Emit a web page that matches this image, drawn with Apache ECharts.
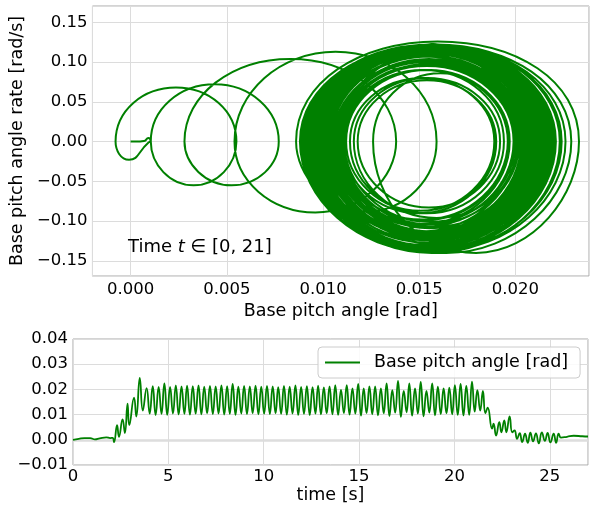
<!DOCTYPE html>
<html>
<head>
<meta charset="utf-8">
<script src="https://cdn.jsdelivr.net/npm/echarts@6/dist/echarts.min.js"></script>
<style>
  html, body { margin: 0; padding: 0; background: #ffffff; }
  #chart { width: 592px; height: 509px; }
</style>
</head>
<body>
<div id="chart"></div>
<script>
// ---------------- DATA ----------------
// Phase portrait, t in [0, 21]
// start of the trajectory (small curl near the origin), [angle, rate]
const phaseStartAngle = [0.0000, 0.0004, 0.0007, 0.00092, 0.00104, 0.00092, -0.00008];
const phaseStartRate  = [0.0000, 0.0002, 0.0007, 0.0045, 0.0010, -0.0015, -0.0229];
// successive turning points of the pitch angle (rate = 0 there)
const phaseAngleExt = [
  -0.00078, 0.0055, 0.00105, 0.0077, 0.0028, 0.0138, 0.0054, 0.0159, 0.0086, 0.0233, 0.0126,
  0.0196, 0.0108, 0.0219, 0.0098, 0.0212, 0.0101, 0.0208, 0.0104, 0.0205, 0.0099,
  0.0214, 0.0096, 0.0210, 0.0102, 0.0207, 0.0106, 0.0203, 0.0100, 0.0211, 0.0095,
  0.0216, 0.0097, 0.0209, 0.0103, 0.0204, 0.0107, 0.0201, 0.0104, 0.0206, 0.0099,
  0.0212, 0.0094, 0.0218, 0.0093, 0.0213, 0.0100, 0.0207, 0.0105, 0.0202, 0.0109,
  0.0199, 0.0106, 0.0204, 0.0101, 0.0210, 0.0097, 0.0215, 0.0092, 0.0221, 0.0089,
  0.0226, 0.0095, 0.0214, 0.0103, 0.0206, 0.0110, 0.0194, 0.0114, 0.0189, 0.0112,
  0.0197, 0.0104, 0.0208, 0.0098, 0.0213, 0.0094, 0.0219, 0.0091, 0.0224, 0.0096,
  0.0211, 0.0102, 0.0205, 0.0108, 0.0200, 0.0111, 0.0196, 0.0107, 0.0203, 0.0100,
  0.0212, 0.0093, 0.0220, 0.0088, 0.0229, 0.0099, 0.0209, 0.0105, 0.0202, 0.0116,
  0.0192, 0.0118, 0.0190, 0.0110, 0.0201, 0.0101, 0.0215, 0.0096, 0.0217, 0.0092,
  0.0223, 0.0090, 0.0216
];
// peak pitch rate between two successive turning points
const phaseRateExt = [
  0.068, -0.055, 0.072, -0.055, 0.104, -0.089, 0.113, -0.088, 0.126, -0.140,
  0.086, -0.099, 0.118, -0.135, 0.120, -0.124, 0.113, -0.116, 0.107, -0.118,
  0.121, -0.132, 0.120, -0.121, 0.111, -0.113, 0.103, -0.115, 0.116, -0.130,
  0.121, -0.133, 0.118, -0.119, 0.107, -0.109, 0.100, -0.107, 0.108, -0.120,
  0.119, -0.132, 0.122, -0.136, 0.121, -0.128, 0.113, -0.115, 0.102, -0.104,
  0.095, -0.104, 0.104, -0.116, 0.114, -0.127, 0.121, -0.135, 0.122, -0.138,
  0.122, -0.137, 0.119, -0.124, 0.108, -0.107, 0.090, -0.090, 0.080, -0.087,
  0.090, -0.104, 0.110, -0.124, 0.120, -0.133, 0.122, -0.137, 0.122, -0.136,
  0.117, -0.122, 0.107, -0.108, 0.097, -0.101, 0.090, -0.098, 0.101, -0.115,
  0.118, -0.133, 0.122, -0.138, 0.122, -0.140, 0.116, -0.116, 0.102, -0.096,
  0.080, -0.083, 0.077, -0.090, 0.098, -0.113, 0.119, -0.131, 0.121, -0.137,
  0.122, -0.140, 0.121
];

// Time history of the base pitch angle
const timeSec = [
  0, 0.3, 0.6, 0.9, 1.15, 1.4, 1.75, 1.95, 2.08, 2.15,
  2.31, 2.41, 2.60, 2.72, 2.86, 2.95, 3.20, 3.32, 3.50, 3.66,
  3.86, 4.02, 4.18, 4.33, 4.49, 4.64,
  4.79, 4.94, 5.09, 5.24, 5.39, 5.54, 5.69, 5.84, 5.98, 6.13,
  6.28, 6.43, 6.58, 6.73, 6.88, 7.03, 7.18, 7.33, 7.48, 7.63,
  7.78, 7.93, 8.08, 8.22, 8.37, 8.52, 8.67, 8.82, 8.97, 9.12,
  9.27, 9.42, 9.57, 9.72, 9.87, 10.02, 10.17, 10.32, 10.47, 10.62,
  10.76, 10.91, 11.06, 11.21, 11.36, 11.51, 11.66, 11.81, 11.96, 12.11,
  12.26, 12.41, 12.56, 12.71, 12.85, 13.00, 13.15, 13.30, 13.45, 13.60,
  13.75, 13.90, 14.05, 14.20, 14.35, 14.50, 14.65, 14.80, 14.95, 15.10,
  15.24, 15.39, 15.54, 15.69, 15.84, 15.99, 16.14, 16.29, 16.44, 16.59,
  16.74, 16.89, 17.04, 17.19, 17.34, 17.49, 17.63, 17.78, 17.93, 18.08,
  18.23, 18.38, 18.53, 18.68, 18.83, 18.98, 19.13, 19.28, 19.43, 19.58,
  19.73, 19.88, 20.02, 20.17, 20.32, 20.47, 20.62, 20.77, 20.92, 21.06,
  21.20, 21.35, 21.49, 21.62,
  21.74, 21.97, 22.05, 22.18, 22.35, 22.46, 22.61, 22.72, 22.89, 23.03,
  23.15, 23.28, 23.42, 23.55, 23.70, 23.84, 23.98, 24.12, 24.27, 24.42,
  24.58, 24.74, 24.88, 25.03, 25.20, 25.33, 25.46, 25.58, 25.9, 26.25,
  26.7, 27
];
const pitchAngle = [
  0.0000, 0.0004, 0.0007, 0.0007, 0.0002, 0.0006, 0.0010, 0.0007, 0.0008, -0.0009,
  0.0058, 0.0012, 0.0081, 0.0027, 0.0143, 0.0058, 0.0167, 0.0092, 0.0246, 0.0116,
  0.0205, 0.0104, 0.0213, 0.0098, 0.0210, 0.0103,
  0.0224, 0.0099, 0.0210, 0.0104, 0.0216, 0.0101, 0.0212, 0.0103, 0.0215, 0.0100,
  0.0213, 0.0104, 0.0216, 0.0101, 0.0211, 0.0105, 0.0214, 0.0102, 0.0212, 0.0104,
  0.0216, 0.0100, 0.0213, 0.0103, 0.0222, 0.0099, 0.0211, 0.0104, 0.0214, 0.0102,
  0.0212, 0.0105, 0.0215, 0.0101, 0.0211, 0.0104, 0.0214, 0.0102, 0.0212, 0.0105,
  0.0209, 0.0103, 0.0214, 0.0100, 0.0211, 0.0104, 0.0216, 0.0099, 0.0210, 0.0103,
  0.0213, 0.0098, 0.0209, 0.0104, 0.0215, 0.0101, 0.0208, 0.0105, 0.0212, 0.0101,
  0.0217, 0.0099, 0.0198, 0.0106, 0.0217, 0.0100, 0.0204, 0.0104, 0.0222, 0.0096,
  0.0204, 0.0106, 0.0212, 0.0101, 0.0212, 0.0097, 0.0204, 0.0105, 0.0224, 0.0094,
  0.0197, 0.0108, 0.0234, 0.0091, 0.0194, 0.0109, 0.0224, 0.0096, 0.0204, 0.0104,
  0.0230, 0.0093, 0.0194, 0.0108, 0.0224, 0.0097, 0.0211, 0.0102, 0.0204, 0.0105,
  0.0207, 0.0101, 0.0217, 0.0099, 0.0222, 0.0097, 0.0214, 0.0099, 0.0231, 0.0112,
  0.0197, 0.0116, 0.0194, 0.0105,
  0.0128, 0.0044, 0.0064, 0.0017, 0.0070, 0.0030, 0.0077, 0.0030, 0.0093, 0.0030,
  0.0037, 0.0004, 0.0026, -0.0009, 0.0024, -0.0012, 0.0028, -0.0006, 0.0025, -0.0014,
  0.0029, -0.0004, 0.0027, -0.0010, 0.0024, -0.0012, 0.0024, 0.0009, 0.0012, 0.0016,
  0.0014, 0.0013
];

const legendName = 'Base pitch angle [rad]';

// ---------------- BUILD ----------------
const phaseData = [];
for (let i = 0; i < phaseStartAngle.length; i++) phaseData.push([phaseStartAngle[i], phaseStartRate[i]]);
for (let i = 0; i < phaseRateExt.length; i++) {
  phaseData.push([phaseAngleExt[i], 0]);
  phaseData.push([(phaseAngleExt[i] + phaseAngleExt[i + 1]) / 2, phaseRateExt[i]]);
}
phaseData.push([phaseAngleExt[phaseAngleExt.length - 1], 0]);

const timeData = timeSec.map((t, i) => [t, pitchAngle[i]]);

const FONT = 'DejaVu Sans';
const GREEN = '#008000';
const minus = v => (v < 0 ? '\u2212' : '');
const fmt = (d) => (v) => minus(v) + Math.abs(v).toFixed(d);
const gridLine = { show: true, lineStyle: { color: '#dcdcdc', width: 1 } };
const tickStyle = { fontFamily: FONT, fontSize: 16.5, color: '#000' };
const nameStyle = { fontFamily: FONT, fontSize: 17.5, color: '#000' };

const chart = echarts.init(document.getElementById('chart'), null, { renderer: 'canvas', width: 592, height: 509 });
chart.setOption({
  animation: false,
  backgroundColor: '#ffffff',
  grid: [
    { left: 90, top: 6, width: 499, height: 270, show: true, borderColor: '#a8a8a8', borderWidth: 1, backgroundColor: '#fff' },
    { left: 73, top: 339, width: 515, height: 126, show: true, borderColor: '#a8a8a8', borderWidth: 1, backgroundColor: '#fff' }
  ],
  xAxis: [
    {
      gridIndex: 0, type: 'value', min: -0.00198, max: 0.02382, splitNumber: 5,
      axisLine: { show: false }, axisTick: { show: false }, splitLine: gridLine,
      axisLabel: Object.assign({ margin: 5, showMinLabel: false, showMaxLabel: false, formatter: fmt(3) }, tickStyle),
      name: 'Base pitch angle [rad]', nameLocation: 'middle', nameGap: 24,
      nameTextStyle: nameStyle
    },
    {
      gridIndex: 1, type: 'value', min: 0, max: 27, interval: 5,
      axisLine: { show: false }, axisTick: { show: false }, splitLine: gridLine,
      axisLabel: Object.assign({ margin: 3, showMaxLabel: false, formatter: v => String(v) }, tickStyle),
      name: 'time [s]', nameLocation: 'middle', nameGap: 21,
      nameTextStyle: nameStyle
    }
  ],
  yAxis: [
    {
      gridIndex: 0, type: 'value', min: -0.169, max: 0.1705, splitNumber: 7,
      axisLine: { show: false }, axisTick: { show: false }, splitLine: gridLine,
      axisLabel: Object.assign({ margin: 5, showMinLabel: false, showMaxLabel: false, formatter: fmt(2) }, tickStyle),
      name: 'Base pitch angle rate [rad/s]', nameLocation: 'middle', nameGap: 53,
      nameTextStyle: nameStyle
    },
    {
      gridIndex: 1, type: 'value', min: -0.01, max: 0.04, interval: 0.01,
      axisLine: { show: false }, axisTick: { show: false }, splitLine: gridLine,
      axisLabel: Object.assign({ margin: 5, formatter: fmt(2) }, tickStyle)
    }
  ],
  legend: {
    data: [{ name: legendName, icon: 'rect' }],
    left: 318, top: 347,
    padding: [6, 12, 6, 7],
    itemWidth: 35, itemHeight: 2, itemGap: 0,
    borderColor: '#cccccc', borderWidth: 1, borderRadius: 4,
    backgroundColor: 'rgba(255,255,255,0.85)',
    itemStyle: { color: GREEN },
    textStyle: { fontFamily: FONT, fontSize: 17.5, color: '#000', padding: [0, 0, 0, 9], lineHeight: 19 }
  },
  graphic: [
    {
      type: 'text', left: 128, top: 238, z: 10,
      style: {
        text: '{a|Time }{b|t}{a| ∈ [0, 21]}',
        rich: {
          a: { fontFamily: FONT, fontSize: 18, fill: '#000' },
          b: { fontFamily: FONT, fontSize: 18, fontStyle: 'italic', fill: '#000' }
        }
      }
    }
  ],
  series: [
    {
      name: 'phase', type: 'line', xAxisIndex: 0, yAxisIndex: 0,
      data: phaseData, smooth: 0.55, showSymbol: false, symbol: 'none',
      lineStyle: { color: GREEN, width: 2 }, itemStyle: { color: GREEN }, z: 3
    },
    {
      name: legendName, type: 'line', xAxisIndex: 1, yAxisIndex: 1,
      data: timeData, smooth: 0.5, showSymbol: false, symbol: 'none',
      lineStyle: { color: GREEN, width: 1.8 }, itemStyle: { color: GREEN }, z: 3,
      markLine: {
        silent: true, symbol: 'none', label: { show: false },
        lineStyle: { color: '#dddddd', width: 2.5, type: 'solid' },
        data: [{ yAxis: 0 }], z: 1
      }
    }
  ]
});
</script>
</body>
</html>
